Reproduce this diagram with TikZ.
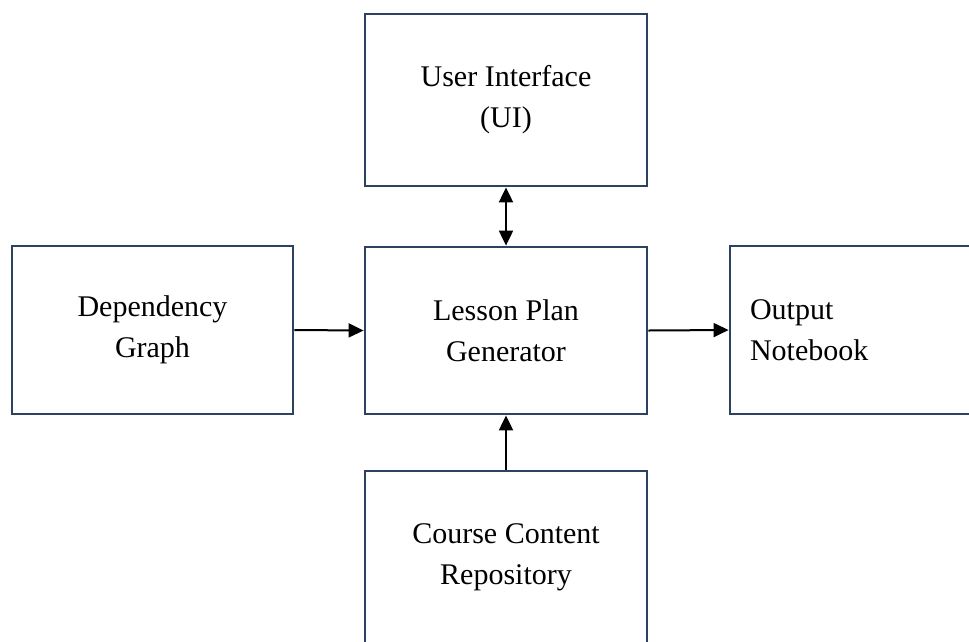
\documentclass[tikz,border=0pt]{standalone}
\usepackage{fontspec}
\setmainfont{Liberation Serif}
\usetikzlibrary{arrows.meta}
\definecolor{boxline}{RGB}{44,66,94}
\tikzset{
  block/.style={draw=boxline, line width=2.8pt, fill=white, rectangle,
    inner sep=0pt, font=\fontsize{30}{41}\selectfont, align=center},
  link/.style={line width=2pt, draw=black,
    -{Triangle[length=15pt,width=14pt]}},
  biglink/.style={line width=2pt, draw=black,
    {Triangle[length=15pt,width=14pt]}-{Triangle[length=15pt,width=14pt]}}
}
\begin{document}
\begin{tikzpicture}[x=1pt,y=-1pt]
  \useasboundingbox (0,0) rectangle (969,641);
  \clip (0,0) rectangle (969,641);
  % boxes, drawn from corner to corner
  \node[block, minimum width=282pt, minimum height=172pt] (ui) at (506,100)
    {User Interface\\(UI)};
  \node[block, minimum width=282pt, minimum height=167pt] (lpg) at (506,330.5)
    {Lesson Plan\\Generator};
  \node[block, minimum width=281pt, minimum height=168pt] (dep) at (152.5,330)
    {Dependency\\Graph};
  \node[block, minimum width=283pt, minimum height=168pt, align=left,
    text width=243pt] (out) at (871.5,330)
    {Output\\Notebook};
  \node[block, minimum width=282pt, minimum height=172pt] (ccr) at (506,557)
    {Course Content\\Repository};
  % connectors
  \draw[biglink] (ui.south) -- (lpg.north);
  \draw[link] (dep.east) -- (lpg.west);
  \draw[link] (lpg.east) -- (out.west);
  \draw[link] (ccr.north) -- (lpg.south);
\end{tikzpicture}
\end{document}
